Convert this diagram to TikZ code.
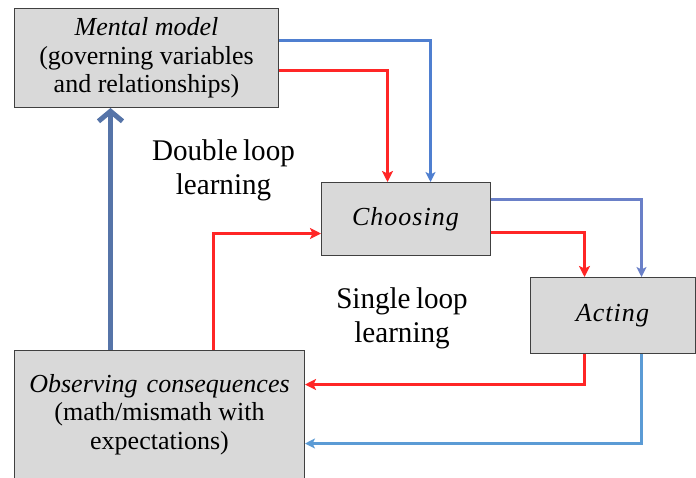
\documentclass[tikz,border=0pt]{standalone}
\usepackage{fontspec}
\setmainfont{Liberation Serif}
\usetikzlibrary{arrows.meta}

\definecolor{boxfill}{HTML}{D9D9D9}
\definecolor{boxline}{HTML}{404040}
\definecolor{loopred}{HTML}{FF2626}
\definecolor{loopblue}{HTML}{4F7FD0}
\definecolor{looplav}{HTML}{6A80C8}
\definecolor{loopsky}{HTML}{5B9BD5}
\definecolor{loopsteel}{HTML}{5674A8}

\tikzset{
  stagebox/.style={draw=boxline, line width=1pt, fill=boxfill, anchor=north west,
    inner sep=0pt, align=center, font=\fontsize{26}{28.5}\selectfont},
  looplabel/.style={align=center, inner sep=0pt,
    font=\fontsize{30}{34}\selectfont\addfontfeature{FakeStretch=0.97}},
  redarrow/.style={draw=loopred, line width=3pt,
    -{Stealth[length=11pt,width=11pt,inset=2.5pt]}},
  bluearrow/.style={draw=loopblue, line width=2.4pt,
    -{Stealth[length=10pt,width=10pt,inset=2.5pt]}},
  lavarrow/.style={bluearrow, draw=looplav},
  skyarrow/.style={bluearrow, draw=loopsky},
  steelarrow/.style={draw=loopsteel, line width=5pt,
    -{Straight Barb[length=10pt,width=24pt]}},
}

\begin{document}
\begin{tikzpicture}[x=1pt,y=-1pt]
  \useasboundingbox (0,0) rectangle (696,477);
  \fill[white] (0,0) rectangle (696,477);

  % the four stages
  \node[stagebox, minimum width=264pt, minimum height=99pt] (mm) at (14,8)
    {\textit{Mental model}\\(governing variables\\and relationships)};
  \node[stagebox, minimum width=169pt, minimum height=73pt] (ch) at (321,182)
    {\raisebox{4pt}{\textit{\addfontfeature{LetterSpace=4}Choosing}}};
  \node[stagebox, minimum width=165pt, minimum height=76pt] (ac) at (530,277)
    {\textit{\addfontfeature{LetterSpace=4}Acting}};
  \node[stagebox, minimum width=290pt, minimum height=128pt] (ob) at (14,350)
    {\textit{Observing\hspace{0.35em}consequences}\\(math/mismath with\\expectations)};

  % loop labels
  \node[looplabel] (dl) at (223.5,170) {Double\hspace{0.18em}loop\\learning};
  \node[looplabel] (sl) at (402,318) {Single\hspace{0.18em}loop\\learning};

  % double loop: mental model -> choosing -> acting -> observing -> mental model
  \draw[bluearrow] ([yshift=17.5pt]mm.east) -| ([xshift=24.5pt]ch.north);
  \draw[lavarrow]  ([yshift=19.5pt]ch.east) -| ([xshift=28.5pt]ac.north);
  \draw[skyarrow]  ([xshift=28.5pt]ac.south) |- ([yshift=-29pt]ob.east);
  \draw[steelarrow] ([xshift=-49pt]ob.north) -- ([xshift=-49pt]ob.north |- mm.south);

  % single loop: choosing -> acting -> observing -> choosing
  \draw[redarrow] ([yshift=-12.5pt]mm.east) -| ([xshift=-18.5pt]ch.north);
  \draw[redarrow] ([yshift=-13.5pt]ch.east) -| ([xshift=-28.5pt]ac.north);
  \draw[redarrow] ([xshift=-28.5pt]ac.south) |- ([yshift=30pt]ob.east);
  \draw[redarrow] ([xshift=54pt]ob.north) |- ([yshift=-14.5pt]ch.west);
\end{tikzpicture}
\end{document}
